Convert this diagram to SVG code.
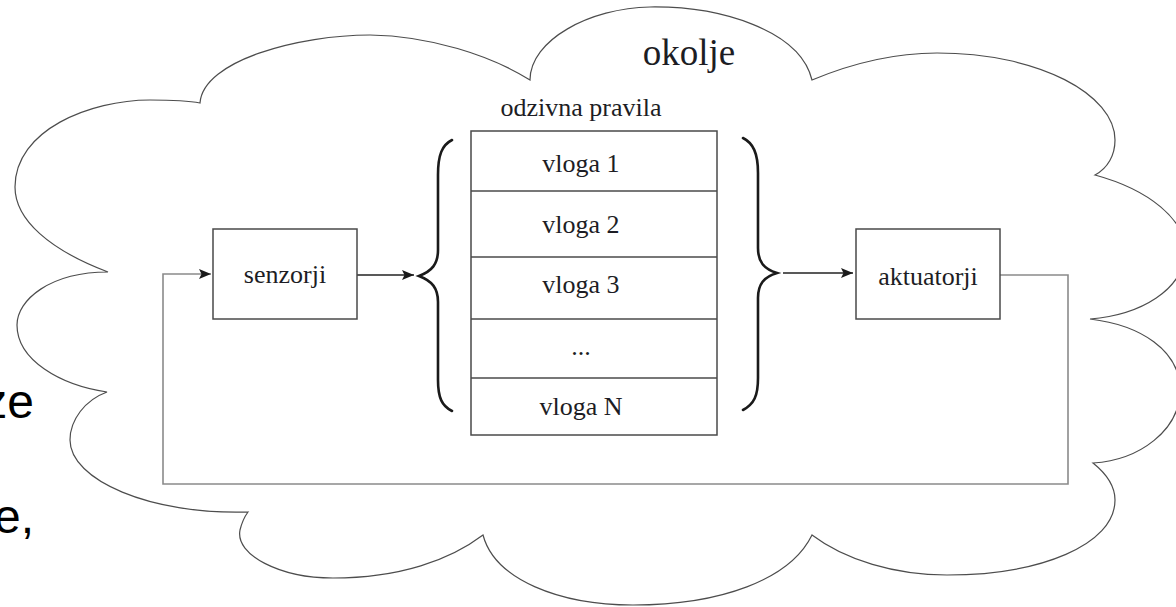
<svg xmlns="http://www.w3.org/2000/svg" width="1176" height="607" viewBox="0 0 1176 607">
<defs>
<style>
.t{font-family:"Liberation Serif","Times New Roman",serif;fill:#1d1d24}
.box{fill:#fff;stroke:#4a4a4a;stroke-width:1.5}
.brace{fill:none;stroke:#1a1a1a;stroke-width:2.6;stroke-linecap:round}
.conn{fill:none;stroke:#222;stroke-width:1.3}
.fb{fill:none;stroke:#8a8a8a;stroke-width:1.6}
.cloud{fill:#fff;stroke:#4d4d4d;stroke-width:1.2}
.bg{font-family:"Liberation Sans",Arial,sans-serif;fill:#000;font-size:48px}
</style>
<marker id="ah" viewBox="0 0 12 10" refX="12" refY="5" markerWidth="12" markerHeight="10" markerUnits="userSpaceOnUse" orient="auto">
<path d="M0,0 L12,5 L0,10 L2.5,5 Z" fill="#1a1a1a"/>
</marker>
</defs>
<rect width="1176" height="607" fill="#fff"/>
<text class="bg" x="34" y="418" text-anchor="end">ze</text>
<text class="bg" x="34" y="533" text-anchor="end">e,</text>
<g id="okolje">
<path class="cloud" d="M200,103 C203,60 300,35 370,35 C430,36 490,55 530,80 C530,40 590,8 650,7 C720,6 800,30 812,80 C860,60 900,53 937,53 C1040,53 1115,95 1115,140 C1115,155 1108,168 1095,175 C1150,190 1185,220 1185,250 C1185,290 1140,315 1090,319 C1140,325 1180,350 1180,390 C1180,430 1140,460 1093,463 C1108,475 1115,488 1115,500 C1115,545 1040,575 947,575 C895,575 845,560 812,535 C790,580 720,605 633,605 C560,605 495,580 483,535 C450,560 400,578 333,578 C280,578 235,555 240,530 C242,522 245,516 248,512 C150,515 70,480 70,440 C70,420 85,400 107,392 C60,385 17,360 17,325 C17,300 50,272 108,272 C50,250 15,220 15,187 C15,130 90,100 150,100 C170,100 190,101 200,103 Z"/>
<text class="t" x="689" y="65" font-size="37" text-anchor="middle">okolje</text>
</g>
<g id="connectors">
<line class="conn" x1="357" y1="275" x2="414" y2="275" marker-end="url(#ah)"/>
<line class="conn" x1="783" y1="273" x2="853" y2="273" marker-end="url(#ah)"/>
<path class="fb" d="M1000,275 H1068 V484 H163 V274 H211" marker-end="url(#ah)"/>
</g>
<g id="senzorji">
<rect class="box" x="213" y="229" width="144" height="90"/>
<text class="t" x="285" y="283" font-size="26" text-anchor="middle">senzorji</text>
</g>
<g id="odzivna-pravila">
<text class="t" x="581" y="116" font-size="26" text-anchor="middle">odzivna pravila</text>
<rect class="box" x="471" y="131" width="246" height="304"/>
<line class="box" x1="471" y1="191" x2="717" y2="191"/>
<line class="box" x1="471" y1="257" x2="717" y2="257"/>
<line class="box" x1="471" y1="319" x2="717" y2="319"/>
<line class="box" x1="471" y1="378" x2="717" y2="378"/>
<text class="t" x="581" y="172" font-size="26" text-anchor="middle">vloga 1</text>
<text class="t" x="581" y="233" font-size="26" text-anchor="middle">vloga 2</text>
<text class="t" x="581" y="293" font-size="26" text-anchor="middle">vloga 3</text>
<text class="t" x="581" y="355" font-size="26" text-anchor="middle">...</text>
<text class="t" x="581" y="415" font-size="26" text-anchor="middle">vloga N</text>
<path class="brace" d="M452,140 C442,145 438,155 438,175 L438,250 C438,264 432,271 419,276 C432,281 438,288 438,302 L438,380 C438,398 442,406 452,411"/>
<path class="brace" d="M743,138 C753,143 758,153 758,173 L758,248 C758,262 764,269 777,273 C764,277 758,284 758,298 L758,378 C758,396 754,404 743,410"/>
</g>
<g id="aktuatorji">
<rect class="box" x="856" y="229" width="144" height="90"/>
<text class="t" x="928" y="285" font-size="26" text-anchor="middle">aktuatorji</text>
</g>
</svg>
